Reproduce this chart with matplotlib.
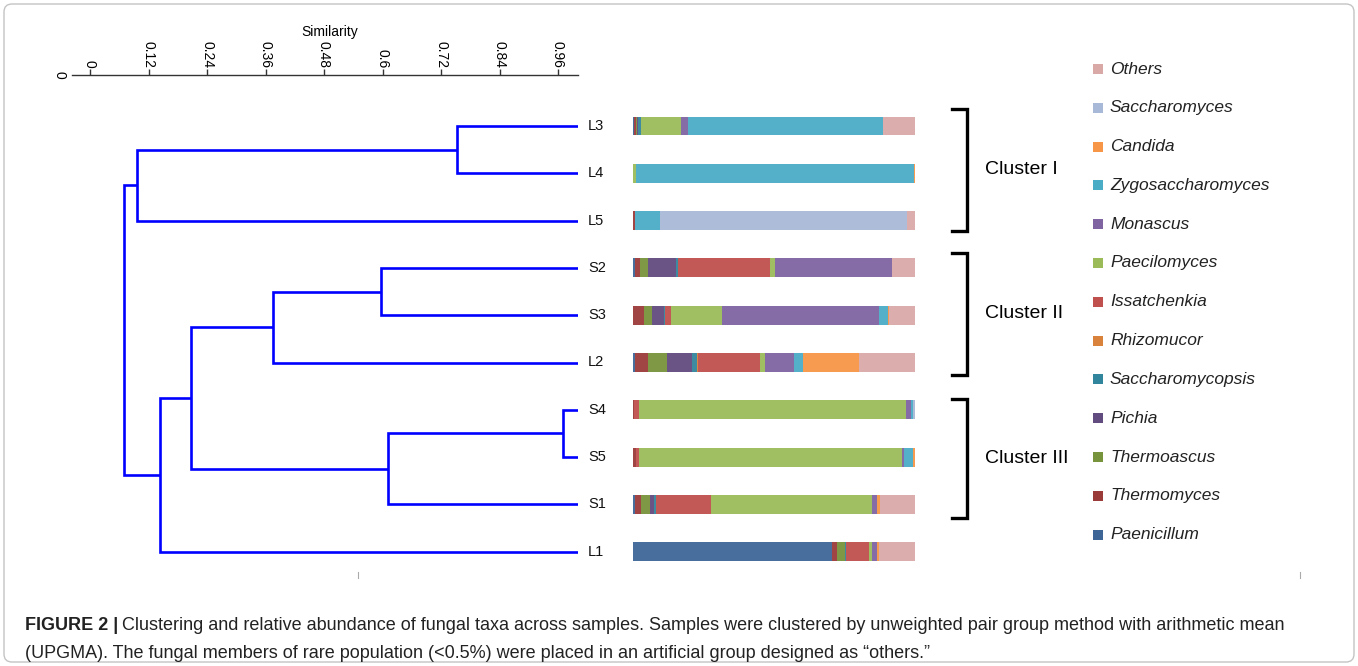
import matplotlib
matplotlib.use('Agg')
import matplotlib.pyplot as plt
from matplotlib.patches import Rectangle, FancyBboxPatch
import numpy as np

plt.rcParams['font.family'] = ['Liberation Sans', 'DejaVu Sans']

# samples, top to bottom
samples = ['L3', 'L4', 'L5', 'S2', 'S3', 'L2', 'S4', 'S5', 'S1', 'L1']

# UPGMA merges: (child a, child b, similarity); new nodes numbered from 10
merges = [(0, 1, 0.753), (10, 2, 0.096), (3, 4, 0.597), (12, 5, 0.375),
          (6, 7, 0.970), (14, 8, 0.611), (13, 15, 0.207), (16, 9, 0.144),
          (11, 17, 0.070)]

# taxa in stacking order (left to right)
taxa = ['Paenicillum', 'Thermomyces', 'Thermoascus', 'Pichia', 'Saccharomycopsis',
        'Rhizomucor', 'Issatchenkia', 'Paecilomyces', 'Monascus',
        'Zygosaccharomyces', 'Candida', 'Saccharomyces', 'Others']
colors = ['#3d6697', '#9b3b39', '#77933c', '#624b7e', '#31859c',
          '#d9823b', '#c0504d', '#9bbb59', '#8064a2',
          '#4bacc6', '#f79646', '#a8b9d7', '#d9a9a8']

# relative abundance (%) per sample, same order as taxa
abund = {
    'L3': [0.3, 0.7, 0.4, 0.5, 0.8, 0.0, 0.0, 14.3, 2.5, 69.2, 0.0, 0.0, 11.3],
    'L4': [0.0, 0.0, 0.0, 0.0, 0.0, 0.0, 0.0, 1.0, 0.0, 98.6, 0.4, 0.0, 0.0],
    'L5': [0.0, 0.8, 0.0, 0.0, 0.0, 0.0, 0.0, 0.0, 0.0, 8.6, 0.0, 87.9, 2.7],
    'S2': [0.6, 2.0, 2.6, 10.2, 0.7, 0.0, 32.6, 1.8, 41.4, 0.0, 0.0, 0.0, 8.1],
    'S3': [0.0, 3.8, 3.1, 4.0, 0.5, 0.0, 2.0, 18.2, 55.8, 3.0, 0.5, 0.0, 9.1],
    'L2': [0.7, 4.5, 7.0, 8.6, 1.9, 0.4, 21.8, 1.8, 10.3, 3.4, 19.6, 0.0, 20.0],
    'S4': [0.0, 0.3, 0.0, 0.0, 0.0, 0.0, 2.0, 94.5, 1.9, 0.7, 0.0, 0.6, 0.0],
    'S5': [0.0, 0.9, 0.0, 0.0, 0.0, 0.0, 1.3, 93.2, 0.7, 3.1, 0.8, 0.0, 0.0],
    'S1': [0.7, 2.2, 3.0, 1.5, 0.7, 0.0, 19.4, 57.3, 1.9, 0.0, 0.8, 0.0, 12.5],
    'L1': [70.5, 1.9, 2.6, 0.0, 0.6, 0.0, 8.0, 1.2, 1.9, 0.0, 0.6, 0.0, 12.7],
}

clusters = ['Cluster I', 'Cluster II', 'Cluster III']
sim_ticks = [0, 0.12, 0.24, 0.36, 0.48, 0.6, 0.72, 0.84, 0.96]

W, H = 1358, 666
fig = plt.figure(figsize=(W / 100, H / 100), dpi=100)

def box(x0, y0, x1, y1):
    # pixel box (from top-left) -> figure fraction rect
    return [x0 / W, 1 - y1 / H, (x1 - x0) / W, (y1 - y0) / H]

# row index -> pixel: y = 126 + 47.3*i ; axes span 75..575 px
ylo = (575 - 126) / 47.3
yhi = (75 - 126) / 47.3

# ---- dendrogram ----
ax_d = fig.add_axes(box(72, 75, 578, 575))
ax_d.set_xlim((72 - 90) / 487.5, (578 - 90) / 487.5)
ax_d.set_ylim(ylo, yhi)
pos = {i: (1.0, float(i)) for i in range(len(samples))}
node = len(samples)
for a, b, s in merges:
    xa, ya = pos[a]
    xb, yb = pos[b]
    ax_d.plot([xa, s, s, xb], [ya, ya, yb, yb], color='#0000ff', lw=1.9,
              solid_joinstyle='miter', solid_capstyle='butt')
    pos[node] = (s, (ya + yb) / 2)
    node += 1
for sp in ['left', 'right', 'bottom']:
    ax_d.spines[sp].set_visible(False)
ax_d.spines['top'].set_color('#333333')
ax_d.spines['top'].set_linewidth(1.0)
ax_d.xaxis.tick_top()
ax_d.set_xticks(sim_ticks)
ax_d.set_xticklabels(['%g' % t for t in sim_ticks], rotation=-90, fontsize=10)
ax_d.tick_params(axis='x', length=4, width=1, color='#333333', pad=1)
ax_d.set_yticks([])
ax_d.patch.set_alpha(0)

# ---- stacked bars ----
ax_b = fig.add_axes(box(633, 75, 915, 575))
ax_b.set_xlim(0, 100)
ax_b.set_ylim(ylo, yhi)
ypos = np.arange(len(samples))
left = np.zeros(len(samples))
for k, t in enumerate(taxa):
    vals = np.array([abund[s][k] for s in samples])
    ax_b.barh(ypos, vals, left=left, height=0.4, color=colors[k],
              edgecolor='none', alpha=0.95)
    left += vals
ax_b.axis('off')
for i, s in enumerate(samples):
    ax_b.text(-16, i, s, fontsize=10.5, ha='left', va='center', color='#111111')

# ---- overlay: brackets, legend, caption ----
ax_o = fig.add_axes([0, 0, 1, 1])
ax_o.set_xlim(0, W)
ax_o.set_ylim(H, 0)
ax_o.axis('off')
ax_o.patch.set_alpha(0)

ax_o.add_patch(FancyBboxPatch((4, 4), W - 8, H - 8,
                              boxstyle='round,pad=0,rounding_size=8',
                              fc='none', ec='#c4c4c4', lw=1.0))

ax_o.text(330, 32, 'Similarity', fontsize=10, ha='center', va='center')
ax_o.text(60, 75, '0', fontsize=10, rotation=-90, ha='center', va='center')

# bracket spans in pixels
spans = [(109, 231), (253, 375), (399, 518)]
for (y0, y1), name in zip(spans, clusters):
    ax_o.plot([952, 967, 967, 952], [y0, y0, y1, y1], color='black', lw=2.4,
              solid_joinstyle='miter')
    ax_o.text(985, (y0 + y1) / 2, name, fontsize=14, ha='left', va='center')

for i, (t, c) in enumerate(zip(taxa[::-1], colors[::-1])):
    yy = 69 + 38.8 * i
    ax_o.add_patch(Rectangle((1093, yy - 5), 10, 10, fc=c, ec='none'))
    ax_o.text(1110, yy, t, fontsize=12.5, style='italic', ha='left', va='center',
              color='#222222')

for xx in (358, 1300):
    ax_o.plot([xx, xx], [572, 578], color='#aaaaaa', lw=0.8)

cap_font = ['Liberation Sans Narrow', 'Liberation Sans', 'DejaVu Sans']
t1 = ax_o.text(25, 625, 'FIGURE 2 |', fontsize=13, fontweight='bold',
               family=cap_font, ha='left', va='center', color='#222222')
fig.canvas.draw()
bb = t1.get_window_extent()
ax_o.text(25 + bb.width + 4, 625,
          'Clustering and relative abundance of fungal taxa across samples. Samples '
          'were clustered by unweighted pair group method with arithmetic mean',
          fontsize=13, family=cap_font, ha='left', va='center', color='#222222')
ax_o.text(25, 654,
          '(UPGMA). The fungal members of rare population (<0.5%) were placed in an '
          'artificial group designed as \u201cothers.\u201d',
          fontsize=13, family=cap_font, ha='left', va='center', color='#222222')

fig.savefig('out.png', dpi=100)
